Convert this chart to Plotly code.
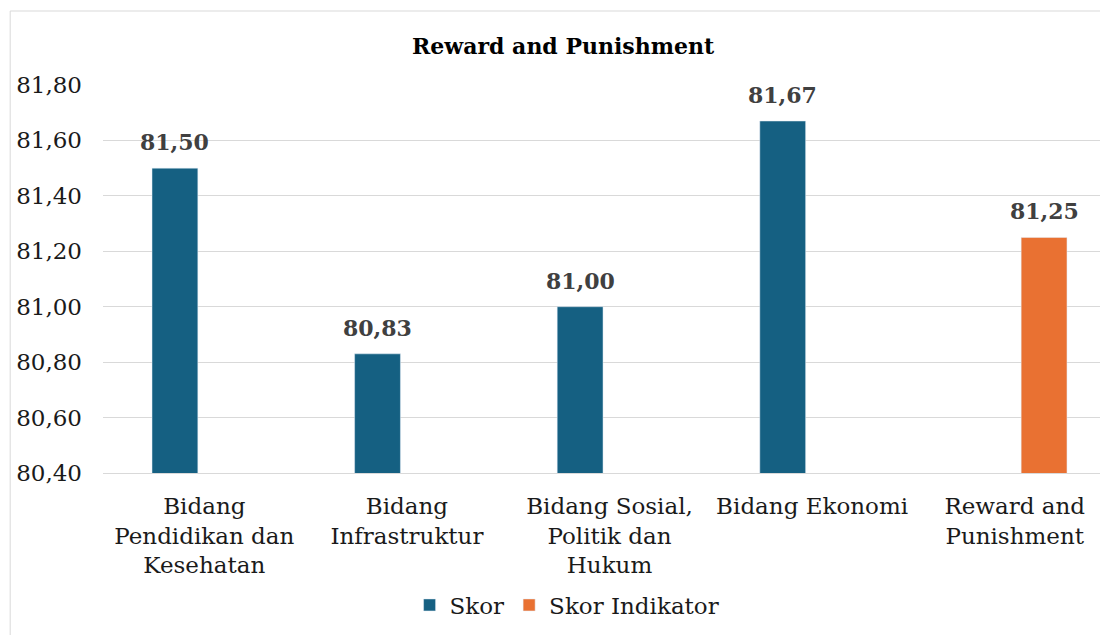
import plotly.graph_objects as go

categories = ["Bidang<br>Pendidikan dan<br>Kesehatan", "Bidang<br>Infrastruktur",
              "Bidang Sosial,<br>Politik dan<br>Hukum", "Bidang Ekonomi",
              "Reward and<br>Punishment"]
skor = [81.50, 80.83, 81.00, 81.67, None]
skor_indikator = [None, None, None, None, 81.25]
y_ticks = [80.40, 80.60, 80.80, 81.00, 81.20, 81.40, 81.60, 81.80]

BLUE = "#156082"
ORANGE = "#E97132"
FONT = "DejaVu Serif"

# page body has an 8px default margin; positions below are page pixels
OFF = 8
W, H = 1108, 635
PLOT_L, PLOT_R, PLOT_T, PLOT_B = 101, 1108, 85, 473
ML = PLOT_L - OFF
MT = PLOT_T - OFF
PW = PLOT_R - PLOT_L
MR = W - ML - PW
PH = PLOT_B - PLOT_T
MB = H - MT - PH
CAT_PX = 203.0

def px_x(p):
    return (p - PLOT_L) / PW

def px_y(p):
    return (PLOT_B - p) / PH

fig = go.Figure()
fig.add_trace(go.Bar(name="Skor", x=categories, y=skor, marker_color=BLUE))
fig.add_trace(go.Bar(name="Skor Indikator", x=categories, y=skor_indikator, marker_color=ORANGE))

annotations = []
slot_px = 29.4
for vals, shift in ((skor, -slot_px), (skor_indikator, slot_px)):
    for c, v in zip(categories, vals):
        if v is None:
            continue
        annotations.append(dict(
            x=c, y=v, xref="x", yref="y", xshift=shift, yshift=11,
            text=f"{v:.2f}".replace(".", ","), showarrow=False,
            yanchor="bottom", xanchor="center",
            font=dict(family=FONT, size=22, color="#404040", weight="bold")))

fig.update_layout(
    width=W, height=H,
    margin=dict(l=ML, r=MR, t=MT, b=MB),
    paper_bgcolor="white", plot_bgcolor="white",
    separators=",.",
    barmode="group", bargap=0.42, bargroupgap=0.22,
    title=dict(text="<b>Reward and Punishment</b>", xref="paper", x=px_x(562),
               xanchor="center", yref="container", y=1 - (46 - OFF) / H, yanchor="middle",
               font=dict(family=FONT, size=22, color="black")),
    font=dict(family=FONT, size=23, color="#1a1a1a"),
    legend=dict(orientation="h", x=px_x(566), xanchor="center",
                y=px_y(605), yanchor="middle",
                font=dict(family=FONT, size=23, color="#1a1a1a"),
                bgcolor="rgba(0,0,0,0)"),
    xaxis=dict(range=[-0.5, -0.5 + PW / CAT_PX], showgrid=False, showline=True,
               linecolor="#D9D9D9", linewidth=1, ticks="", ticklabelstandoff=12,
               tickfont=dict(family=FONT, size=23, color="#1a1a1a")),
    yaxis=dict(range=[80.4, 81.8], tickvals=y_ticks, tickformat=".2f",
               showgrid=True, gridcolor="#D9D9D9", gridwidth=1, zeroline=False,
               showline=False, ticks="", ticklabelstandoff=20,
               tickfont=dict(family=FONT, size=23, color="#1a1a1a")),
    annotations=annotations,
    shapes=[dict(type="rect", xref="paper", yref="paper", layer="below",
                 x0=px_x(8), x1=1.3, y0=-0.8, y1=px_y(11),
                 line=dict(color="#D9D9D9", width=1), fillcolor="rgba(0,0,0,0)")],
)

fig.write_html("out.html")
